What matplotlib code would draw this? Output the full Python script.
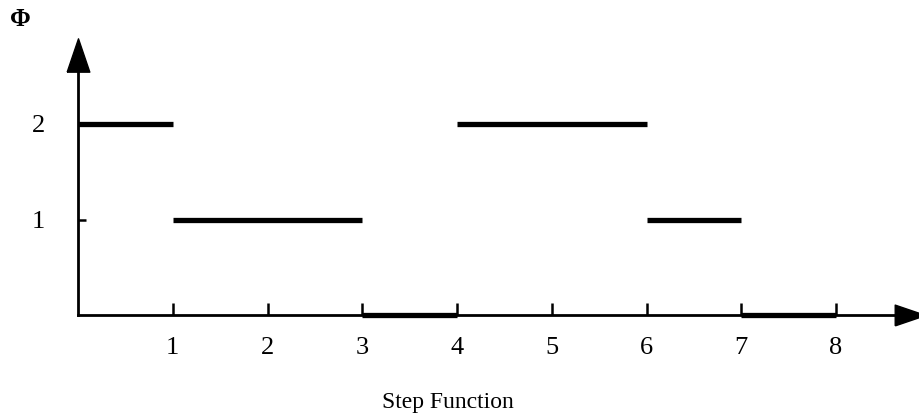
import matplotlib
matplotlib.use("Agg")
import matplotlib.pyplot as plt

starts = [0, 1, 3, 4, 6, 7]
ends = [1, 3, 4, 6, 7, 8]
values = [2, 1, 0, 2, 1, 0]
xticks = [1, 2, 3, 4, 5, 6, 7, 8]
yticks = [1, 2]
title = "Step Function"
ylabel = "\u03a6"

plt.rcParams['font.family'] = ['Liberation Serif', 'DejaVu Serif']

W, H = 919, 419
fig = plt.figure(figsize=(W / 100, H / 100), dpi=100)
x0, y0 = 78, 315
pxu_x, pxu_y = 94.75, 95.5
xmax, ymax = 8.78, 2.72
ax = fig.add_axes([x0 / W, (H - y0) / H, xmax * pxu_x / W, ymax * pxu_y / H])
ax.set_xlim(0, xmax)
ax.set_ylim(0, ymax)

for s in ['top', 'right']:
    ax.spines[s].set_visible(False)
for s in ['left', 'bottom']:
    ax.spines[s].set_linewidth(2.0)
    ax.spines[s].set_color('black')

ax.hlines(values, starts, ends, colors='black', linewidth=3.8, clip_on=False)

up = [(-0.34, -0.5), (0.34, -0.5), (0, 0.5), (-0.34, -0.5)]
right = [(-0.5, -0.34), (-0.5, 0.34), (0.5, 0), (-0.5, -0.34)]
ax.plot(1, 0, marker=right, color='k', markersize=22, transform=ax.get_yaxis_transform(), clip_on=False)
ax.plot(0, 1, marker=up, color='k', markersize=24, transform=ax.get_xaxis_transform(), clip_on=False)

ax.set_xticks(xticks)
ax.set_xticklabels([str(v) for v in xticks])
ax.set_yticks(yticks)
ax.set_yticklabels([str(v) for v in yticks])
ax.tick_params(axis='x', direction='in', length=9, width=1.8, pad=16, labelsize=19)
ax.tick_params(axis='y', direction='in', length=6, width=1.8, pad=24, labelsize=19)

fig.text(20 / W, 1 - 20 / H, ylabel, fontsize=18, fontweight='bold', ha='center', va='center')
fig.text(448 / W, 1 - 402 / H, title, fontsize=17, ha='center', va='center')

fig.savefig('out.png', dpi=100, facecolor='white')
